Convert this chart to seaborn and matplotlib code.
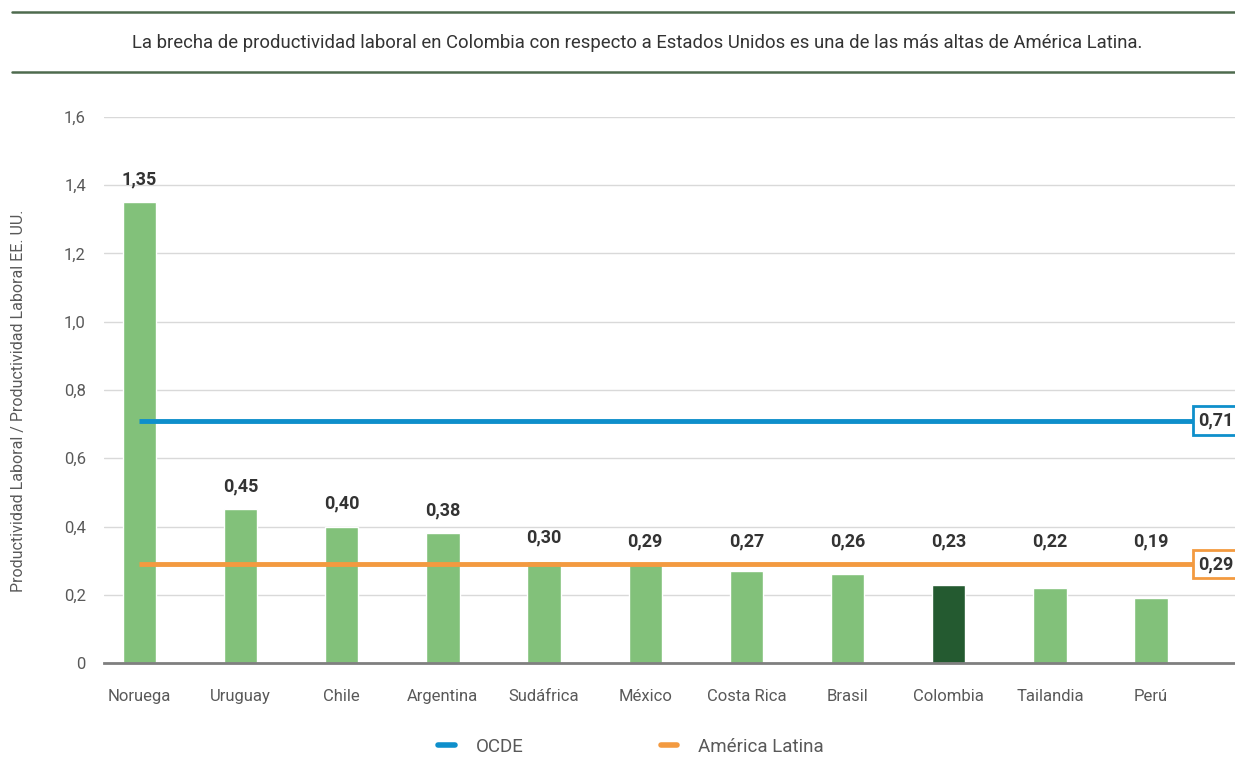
import matplotlib
matplotlib.use("Agg")
import matplotlib.pyplot as plt
from matplotlib.lines import Line2D
import seaborn as sns
import pandas as pd

# Datos: productividad laboral relativa a EE. UU.
paises = ["Noruega", "Uruguay", "Chile", "Argentina", "Sudáfrica", "México",
          "Costa Rica", "Brasil", "Colombia", "Tailandia", "Perú"]
valores = [1.35, 0.45, 0.40, 0.38, 0.30, 0.29, 0.27, 0.26, 0.23, 0.22, 0.19]
ref_nombres = ["OCDE", "América Latina"]
ref_valores = [0.71, 0.29]
y_ticks = [0, 0.2, 0.4, 0.6, 0.8, 1.0, 1.2, 1.4, 1.6]
titulo = ("La brecha de productividad laboral en Colombia con respecto a "
          "Estados Unidos es una de las más altas de América Latina.")
y_titulo = "Productividad Laboral / Productividad Laboral EE. UU."

VERDE = "#82C17A"
VERDE_OSC = "#245A30"
AZUL = "#0E8FCB"
NARANJA = "#F39A40"
GRIS_TXT = "#595959"
OSCURO = "#333333"

sns.set_theme(style="white")
plt.rcParams["font.family"] = ["Roboto", "DejaVu Sans"]

df = pd.DataFrame({"pais": paises, "valor": valores})
df["grupo"] = ["Colombia" if p == "Colombia" else "Otros" for p in paises]

W, H = 1235, 761
fig = plt.figure(figsize=(W / 100, H / 100), dpi=100)
ax = fig.add_axes([104 / W, (H - 663) / H, (W - 104) / W, (663 - 117) / H])

sns.barplot(data=df, x="pais", y="valor", hue="grupo",
            palette={"Otros": VERDE, "Colombia": VERDE_OSC}, saturation=1,
            width=0.33, dodge=False, legend=False, ax=ax, zorder=3)

ax.set_ylim(0, 1.6)
ax.set_xlim(-0.35, 10.83)
ax.set_yticks(y_ticks)
ax.set_yticklabels(["0" if t == 0 else f"{t:.1f}".replace(".", ",") for t in y_ticks],
                   color=GRIS_TXT, fontsize=12)
ax.tick_params(axis="y", length=0, pad=13)
ax.tick_params(axis="x", length=0, pad=19, labelsize=12, labelcolor=GRIS_TXT)
ax.set_xlabel("")
ax.set_ylabel(y_titulo, color=GRIS_TXT, fontsize=11.5)
ax.yaxis.set_label_coords(-0.069, 0.48)
for t in y_ticks[1:]:
    ax.axhline(t, color="#D9D9D9", lw=1, zorder=1)
for s in ["top", "right", "left"]:
    ax.spines[s].set_visible(False)
ax.spines["bottom"].set_color("#7F7F7F")
ax.spines["bottom"].set_linewidth(2)
ax.spines["bottom"].set_zorder(4)

# Etiquetas de valor: sobre la barra, o sobre la línea de América Latina
# cuando la barra queda por debajo de ella
piso = ref_valores[1]
for i, v in enumerate(valores):
    ax.annotate(f"{v:.2f}".replace(".", ","), (i, max(v, piso)), xytext=(0, 10),
                textcoords="offset points", ha="center", va="bottom",
                fontsize=13, fontweight="bold", color=OSCURO)

# Líneas de referencia con su valor en recuadro
for nombre, v, c in zip(ref_nombres, ref_valores, [AZUL, NARANJA]):
    ax.hlines(v, 0, 10.42, color=c, lw=3.5, zorder=5)
    ax.text(10.47, v, f"{v:.2f}".replace(".", ","), ha="left", va="center",
            fontsize=13, fontweight="bold", color=OSCURO, zorder=6,
            clip_on=False,
            bbox=dict(boxstyle="square,pad=0.3", fc="white", ec=c, lw=2))

# Franja del título
for yy in [12, 72]:
    fig.add_artist(Line2D([12 / W, 1], [1 - yy / H, 1 - yy / H],
                          color="#4E6B4E", lw=1.8))
fig.text(0.516, 1 - 43 / H, titulo, ha="center", va="center",
         fontsize=13.3, color=OSCURO)

# Leyenda
handles = [Line2D([], [], color=AZUL, lw=4), Line2D([], [], color=NARANJA, lw=4)]
fig.legend(handles, ref_nombres, loc="center", bbox_to_anchor=(0.511, 1 - 747 / H),
           ncol=2, frameon=False, fontsize=13.5, handlelength=0.9,
           handletextpad=1.1, columnspacing=7.3, labelcolor=GRIS_TXT)

fig.savefig("out.png", dpi=100)
